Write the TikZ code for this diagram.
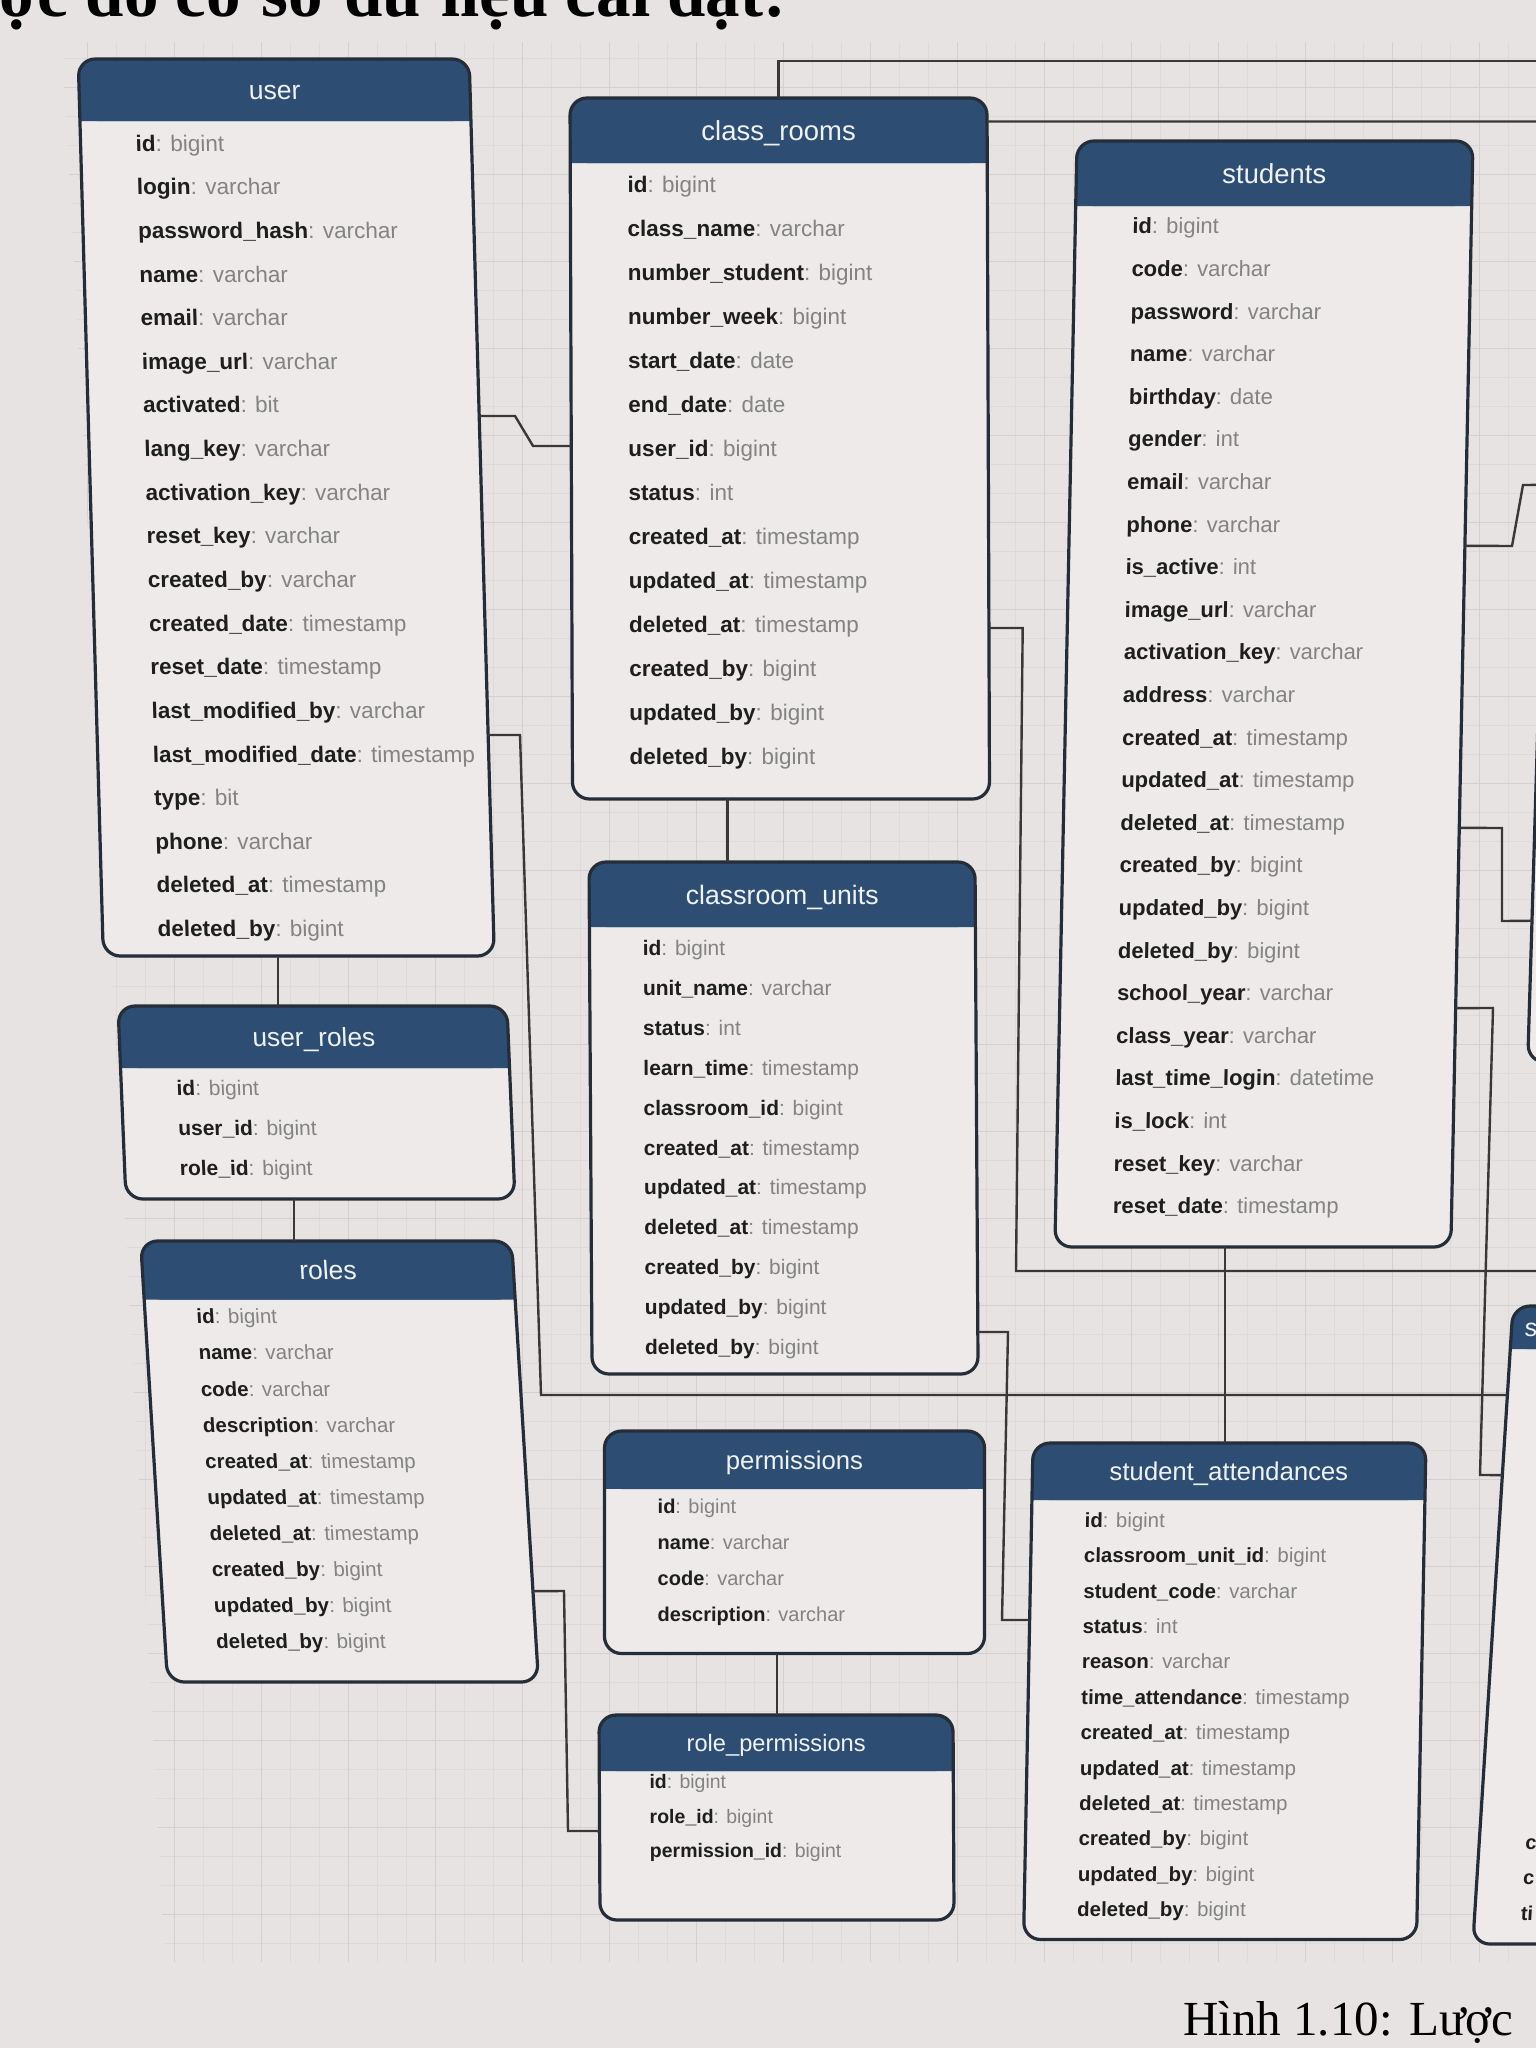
\documentclass[tikz,border=0pt]{standalone}
\usepackage{fontspec}
\setmainfont{Liberation Sans}
\newfontfamily\capfont{Liberation Serif}
\usetikzlibrary{calc}

\definecolor{paper}{HTML}{E7E3E3}
\definecolor{bodycol}{HTML}{EDEAE9}
\definecolor{hdrcol}{HTML}{2E4D72}
\definecolor{hdrtxt}{HTML}{EEF2F6}
\definecolor{bordercol}{HTML}{252D38}
\definecolor{conncol}{HTML}{383838}
\definecolor{namecol}{HTML}{1E1E1E}
\definecolor{typecol}{HTML}{838383}
\definecolor{gridminor}{HTML}{DEDADA}
\definecolor{gridmajor}{HTML}{D5D0D0}

\pgfkeys{/er/.cd,
  x/.store in=\erX, y/.store in=\erY, w/.store in=\erW, h/.store in=\erH,
  hh/.store in=\erHH, sl/.store in=\erSL, r0/.store in=\erRO, sp/.store in=\erSP,
  tx/.store in=\erTX, fs/.store in=\erFS, tfs/.store in=\erTFS}

% #1 options, #2 node name, #3 title, #4 rows name/type
\newcommand{\ertable}[4]{%
  \pgfkeys{/er/.cd,#1}%
  \begin{scope}[shift={(\erX,\erY)}, xslant=\erSL, transform shape]
    \fill[bodycol, rounded corners=17pt] (0,0) rectangle (\erW,\erH);
    \fill[hdrcol, rounded corners=17pt] (0,0) rectangle (\erW,\erHH);
    \fill[hdrcol] (0,20) rectangle (\erW,\erHH);
    \draw[bordercol, line width=3.2pt, rounded corners=17pt] (0,0) rectangle (\erW,\erH);
    \node[inner sep=0pt, outer sep=0pt, minimum width=\erW pt, minimum height=\erH pt, anchor=north west] (#2) at (0,0) {};
    \node[text=hdrtxt, inner sep=0pt, anchor=base, font=\fontsize{\erTFS}{\erTFS}\selectfont] (#2-t) at ({\erW/2}, {\erHH/2 + 0.36*\erTFS}) {#3};
    \foreach \fn/\ft [count=\i from 0] in {#4} {
      \node[inner sep=0pt, anchor=base west, font=\fontsize{\erFS}{\erFS}\selectfont] (#2-r\i) at (\erTX, {\erRO + \i*\erSP + 0.36*\erFS}) {\textcolor{namecol}{\bfseries\fn}\textcolor{typecol}{: \ft}};
    }
  \end{scope}}

\begin{document}
\begin{tikzpicture}[x=1pt,y=-1pt,
  conn/.style={draw=conncol, line width=2.4pt, line join=miter}]
\useasboundingbox (0,0) rectangle (1536,2048);
\clip (0,0) rectangle (1536,2048);
\fill[paper] (0,0) rectangle (1536,2048);

% grid
\begin{scope}
  \clip (62,42) -- (1536,42) -- (1536,1962) -- (165,1962) -- cycle;
  \foreach \gx in {0,29,...,1536} \draw[gridminor, line width=0.8pt] (\gx,0) -- (\gx,2048);
  \foreach \gy in {0,29,...,2048} \draw[gridminor, line width=0.8pt] (0,\gy) -- (1536,\gy);
  \foreach \gx in {0,87,...,1536} \draw[gridmajor, line width=1pt] (\gx,0) -- (\gx,2048);
  \foreach \gy in {0,87,...,2048} \draw[gridmajor, line width=1pt] (0,\gy) -- (1536,\gy);
\end{scope}

% title and caption
\node[anchor=base west, inner sep=0pt, font=\capfont\bfseries\fontsize{69}{69}\selectfont] (title) at (-88,16) {Lược đồ cơ sở dữ liệu cài đặt:};
\node[anchor=base west, inner sep=0pt, font=\capfont\fontsize{49}{49}\selectfont] (caption) at (1183,2035) {Hình 1.10: Lược};

% tables
\ertable{x=78.2, y=59, w=391, h=897, hh=62, sl=-0.028, r0=84, sp=43.64, tx=55, fs=22.5, tfs=26.5}{user}{user}{
  id/bigint, login/varchar, password\_hash/varchar, name/varchar, email/varchar,
  image\_url/varchar, activated/bit, lang\_key/varchar, activation\_key/varchar,
  reset\_key/varchar, created\_by/varchar, created\_date/timestamp, reset\_date/timestamp,
  last\_modified\_by/varchar, last\_modified\_date/timestamp, type/bit, phone/varchar,
  deleted\_at/timestamp, deleted\_by/bigint}

\ertable{x=570, y=98, w=417, h=701, hh=65, sl=-0.0036, r0=86, sp=44.0, tx=57, fs=22.5, tfs=27.5}{cr}{class\_rooms}{
  id/bigint, class\_name/varchar, number\_student/bigint, number\_week/bigint,
  start\_date/date, end\_date/date, user\_id/bigint, status/int, created\_at/timestamp,
  updated\_at/timestamp, deleted\_at/timestamp, created\_by/bigint, updated\_by/bigint,
  deleted\_by/bigint}

\ertable{x=1077, y=141, w=396, h=1106, hh=65, sl=0.02, r0=85, sp=42.6, tx=57, fs=22, tfs=27.5}{st}{students}{
  id/bigint, code/varchar, password/varchar, name/varchar, birthday/date, gender/int,
  email/varchar, phone/varchar, is\_active/int, image\_url/varchar, activation\_key/varchar,
  address/varchar, created\_at/timestamp, updated\_at/timestamp, deleted\_at/timestamp,
  created\_by/bigint, updated\_by/bigint, deleted\_by/bigint, school\_year/varchar,
  class\_year/varchar, last\_time\_login/datetime, is\_lock/int, reset\_key/varchar,
  reset\_date/timestamp}

\ertable{x=589, y=862, w=386, h=512, hh=65, sl=-0.006, r0=86, sp=39.9, tx=53, fs=21, tfs=26.7}{cu}{classroom\_units}{
  id/bigint, unit\_name/varchar, status/int, learn\_time/timestamp, classroom\_id/bigint,
  created\_at/timestamp, updated\_at/timestamp, deleted\_at/timestamp, created\_by/bigint,
  updated\_by/bigint, deleted\_by/bigint}

\ertable{x=118, y=1006, w=389, h=193, hh=62, sl=-0.041, r0=82, sp=39.8, tx=55, fs=21, tfs=26.3}{ur}{user\_roles}{
  id/bigint, user\_id/bigint, role\_id/bigint}

\ertable{x=140.6, y=1241, w=371, h=441, hh=58.6, sl=-0.061, r0=75.5, sp=36.1, tx=51, fs=20.5, tfs=26.5}{ro}{roles}{
  id/bigint, name/varchar, code/varchar, description/varchar, created\_at/timestamp,
  updated\_at/timestamp, deleted\_at/timestamp, created\_by/bigint, updated\_by/bigint,
  deleted\_by/bigint}

\ertable{x=604.5, y=1431, w=380, h=222.5, hh=58, sl=0, r0=75, sp=36, tx=53, fs=20, tfs=25.7}{pe}{permissions}{
  id/bigint, name/varchar, code/varchar, description/varchar}

\ertable{x=599, y=1715, w=354, h=205, hh=56, sl=-0.005, r0=66.5, sp=34.6, tx=50, fs=19.5, tfs=23.7}{rp}{role\_permissions}{
  id/bigint, role\_id/bigint, permission\_id/bigint}

\ertable{x=1033, y=1443, w=393, h=496.5, hh=57, sl=0.019, r0=77, sp=35.4, tx=53, fs=20.4, tfs=25.7}{sa}{student\_attendances}{
  id/bigint, classroom\_unit\_id/bigint, student\_code/varchar, status/int, reason/varchar,
  time\_attendance/timestamp, created\_at/timestamp, updated\_at/timestamp,
  deleted\_at/timestamp, created\_by/bigint, updated\_by/bigint, deleted\_by/bigint}

% partial table at right (top)
\begin{scope}[shift={(1547,420)}, xslant=0.03, transform shape]
  \fill[bodycol, rounded corners=17pt] (0,0) rectangle (400,642);
  \fill[hdrcol, rounded corners=17pt] (0,0) rectangle (400,60);
  \fill[hdrcol] (0,20) rectangle (400,60);
  \draw[bordercol, line width=3.2pt, rounded corners=17pt] (0,0) rectangle (400,642);
  \node[inner sep=0pt, outer sep=0pt, minimum width=400pt, minimum height=642pt, anchor=north west] (ta) at (0,0) {};
\end{scope}

% partial table at right (bottom)
\begin{scope}[shift={(1513,1306)}, xslant=0.063, transform shape]
  \fill[bodycol, rounded corners=17pt] (0,0) rectangle (420,638);
  \fill[hdrcol, rounded corners=17pt] (0,0) rectangle (420,43);
  \fill[hdrcol] (0,20) rectangle (420,43);
  \draw[bordercol, line width=3.2pt, rounded corners=17pt] (0,0) rectangle (420,638);
  \node[inner sep=0pt, outer sep=0pt, minimum width=420pt, minimum height=638pt, anchor=north west] (tb) at (0,0) {};
  \node[text=hdrtxt, inner sep=0pt, anchor=base west, font=\fontsize{25}{25}\selectfont] (tb-t) at (13, 30) {s};
  \node[inner sep=0pt, anchor=base west, font=\bfseries\fontsize{20}{20}\selectfont, text=namecol] (tb-r0) at (46, 543) {c};
  \node[inner sep=0pt, anchor=base west, font=\bfseries\fontsize{20}{20}\selectfont, text=namecol] (tb-r1) at (46, 578) {c};
  \node[inner sep=0pt, anchor=base west, font=\bfseries\fontsize{20}{20}\selectfont, text=namecol] (tb-r2) at (46, 614) {ti};
\end{scope}

% free ends leaving the page
\coordinate (offA) at (1570,61);
\coordinate (offB) at (1570,121.5);
\coordinate (offH) at (1570,1271);

% connectors
\draw[conn] (cr.north) -- ++(0,-37) -- (offA);
\draw[conn] ($(cr.north east)!0.0335!(cr.south east)$) -- (offB);
\draw[conn] ($(user.north east)!0.398!(user.south east)$) -- (515,416) -- (533,446) -- ($(cr.north west)!0.4964!(cr.south west)$);
\coordinate (d1) at ($(user.south west)!0.447!(user.south east)$);
\draw[conn] (d1) -- (d1 |- ur.north);
\coordinate (e1) at ($(ur.south west)!0.432!(ur.south east)$);
\draw[conn] (e1) -- (e1 |- ro.north);
\draw[conn] ($(user.north east)!0.7536!(user.south east)$) -- (520,735) -- (541,1395) -- ($(tb.north west)!0.1395!(tb.south west)$);
\coordinate (g1) at ($(cr.south west)!0.372!(cr.south east)$);
\draw[conn] (g1) -- (g1 |- cu.north);
\draw[conn] ($(cr.north east)!0.756!(cr.south east)$) -- (1022.7,628) -- (1016,1271) -- (offH);
\draw[conn] ($(cu.north east)!0.918!(cu.south east)$) -- (1008,1332) -- (1002,1620) -- ($(sa.north west)!0.3565!(sa.south west)$);
\coordinate (j1) at ($(st.south west)!0.43!(st.south east)$);
\draw[conn] (j1) -- (j1 |- sa.north);
\draw[conn] ($(ro.north east)!0.794!(ro.south east)$) -- (564,1591) -- (568,1831) -- ($(rp.north west)!0.566!(rp.south west)$);
\coordinate (l1) at ($(pe.south west)!0.454!(pe.south east)$);
\draw[conn] (l1) -- (l1 |- rp.north);
\draw[conn] ($(st.north east)!0.366!(st.south east)$) -- (1512,546) -- (1523,485) -- ($(ta.north west)!0.101!(ta.south west)$);
\draw[conn] ($(st.north east)!0.621!(st.south east)$) -- (1502,828) -- (1502,921) -- ($(ta.north west)!0.780!(ta.south west)$);
\draw[conn] ($(st.north east)!0.784!(st.south east)$) -- (1493,1008) -- (1480,1475) -- ($(tb.north west)!0.265!(tb.south west)$);
\end{tikzpicture}
\end{document}
